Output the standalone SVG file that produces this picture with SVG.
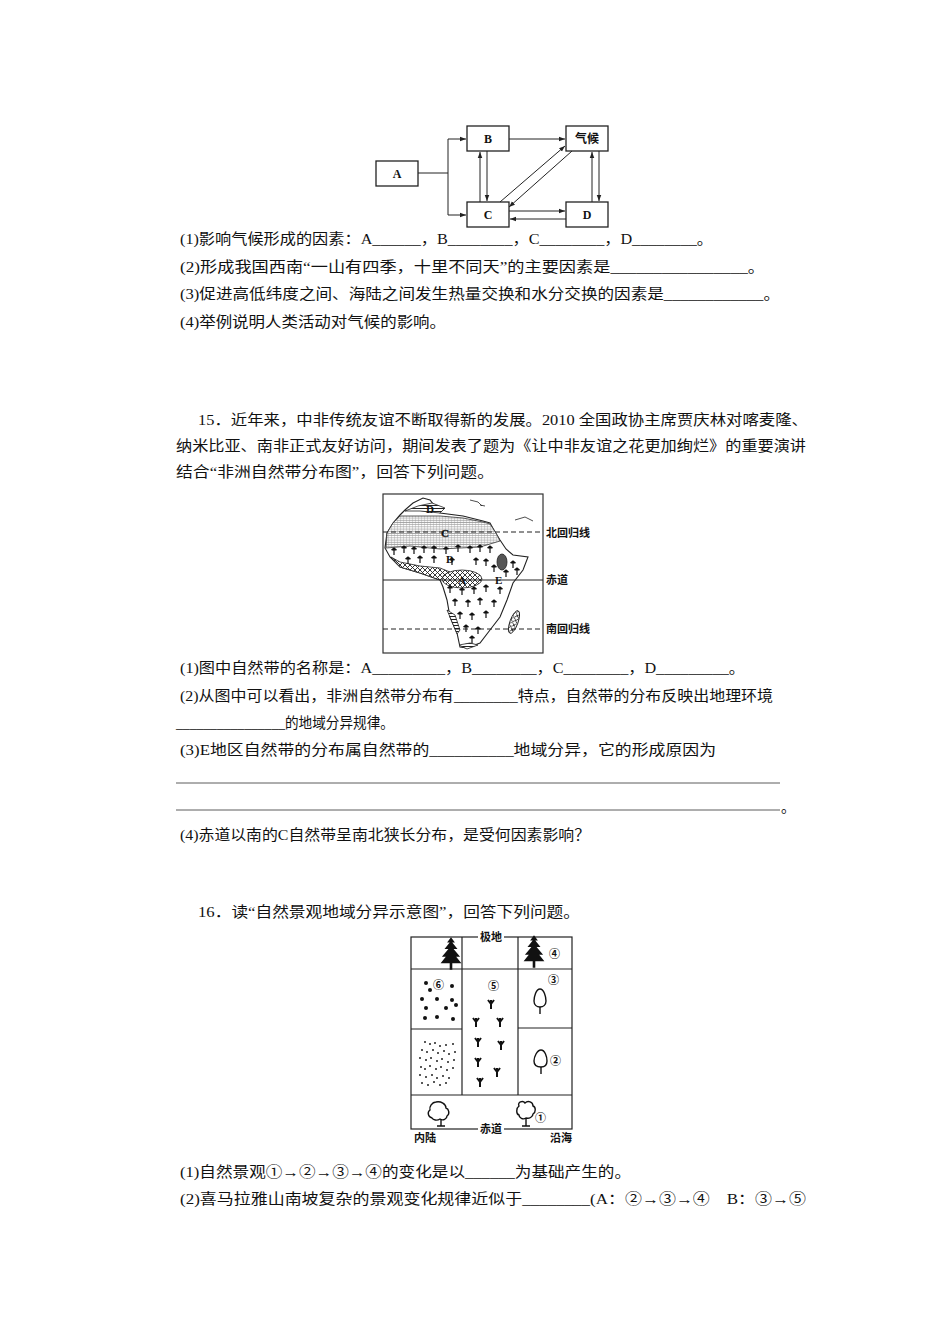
<svg xmlns="http://www.w3.org/2000/svg" width="950" height="1344" viewBox="0 0 950 1344">
<style>
.t{font-family:"Liberation Serif","Noto Sans CJK SC",serif;font-size:14.5px;fill:#111}
.b{fill:#fff;stroke:#222;stroke-width:1.3}
.bl{font-family:"Liberation Serif","Noto Sans CJK SC",serif;font-size:12px;font-weight:bold;fill:#111;text-anchor:middle}
.s{font-family:"Liberation Serif","Noto Sans CJK SC",serif;font-size:11px;font-weight:bold;fill:#111}
.c{fill:none;stroke:#222;stroke-width:1}
</style>
<defs>
<marker id="ar" viewBox="0 0 8 8" refX="8" refY="4" markerWidth="6" markerHeight="6" orient="auto"><path d="M0,1 L8,4 L0,7 z" fill="#222"/></marker>
<pattern id="hl" width="3" height="2.2" patternUnits="userSpaceOnUse"><rect width="3" height="2.2" fill="#fff"/><line x1="0" y1="1" x2="3" y2="1" stroke="#555" stroke-width="0.5"/><line x1="1.5" y1="0" x2="1.5" y2="2.2" stroke="#999" stroke-width="0.3"/></pattern>
<pattern id="hd" width="3" height="3" patternUnits="userSpaceOnUse"><rect width="3" height="3" fill="#fff"/><line x1="0" y1="1.5" x2="3" y2="1.5" stroke="#222" stroke-width="1"/></pattern>
<pattern id="cx" width="5" height="5" patternUnits="userSpaceOnUse"><rect width="5" height="5" fill="#fff"/><path d="M0,0 L5,5 M5,0 L0,5" stroke="#222" stroke-width="0.9"/></pattern>
<path id="tr" d="M0,0 v-5 M-2.5,-5 h5 M-2.5,-5 l2.5,-2 l2.5,2" stroke="#111" stroke-width="1.2" fill="#111"/>
<path id="gr" d="M0,5 v-9 M0,0 l-3,-4 M0,0 l3,-4" stroke="#111" stroke-width="2" fill="none"/>
<path id="pine" d="M0,-16 l-3,4 h2 l-4,5 h3 l-5,6 h3 l-4,5 h16 l-4,-5 h3 l-5,-6 h3 l-4,-5 h2 z M-1,4 h2 v5 h-2z" fill="#111"/>
</defs>

<g id="nodeA"><rect class="b" x="376" y="161" width="42" height="25"/><text class="bl" x="397" y="178">A</text></g>
<g id="nodeB"><rect class="b" x="467" y="126" width="42" height="25"/><text class="bl" x="488" y="143">B</text></g>
<g id="nodeQ"><rect class="b" x="566" y="126" width="42" height="25"/><text class="bl" x="587" y="143" font-weight="normal">气候</text></g>
<g id="nodeC"><rect class="b" x="467" y="202" width="42" height="25"/><text class="bl" x="488" y="219">C</text></g>
<g id="nodeD"><rect class="b" x="566" y="202" width="42" height="25"/><text class="bl" x="587" y="219">D</text></g>
<g id="connectors">
<path class="c" d="M418,173 H448 V139 H466" marker-end="url(#ar)"/>
<path class="c" d="M448,173 V215 H466" marker-end="url(#ar)"/>
<path class="c" d="M509,139 H565" marker-end="url(#ar)"/>
<path class="c" d="M480,202 V152" marker-end="url(#ar)"/>
<path class="c" d="M487,151 V201" marker-end="url(#ar)"/>
<path class="c" d="M500,202 L565,146" marker-end="url(#ar)"/>
<path class="c" d="M572,151 L509,207" marker-end="url(#ar)"/>
<path class="c" d="M509,211 H565" marker-end="url(#ar)"/>
<path class="c" d="M566,219 H510" marker-end="url(#ar)"/>
<path class="c" d="M592,202 V152" marker-end="url(#ar)"/>
<path class="c" d="M599,151 V201" marker-end="url(#ar)"/>
</g>

<g id="text1">
<text class="t" x="180" y="244" textLength="533" lengthAdjust="spacingAndGlyphs">(1)影响气候形成的因素：A______，B________，C________，D________。</text>
<text class="t" x="180" y="272" textLength="585" lengthAdjust="spacingAndGlyphs">(2)形成我国西南“一山有四季，十里不同天”的主要因素是________________。</text>
<text class="t" x="180" y="299" textLength="600" lengthAdjust="spacingAndGlyphs">(3)促进高低纬度之间、海陆之间发生热量交换和水分交换的因素是____________。</text>
<text class="t" x="180" y="327" textLength="266" lengthAdjust="spacingAndGlyphs">(4)举例说明人类活动对气候的影响。</text>
<text class="t" x="198" y="425" textLength="610" lengthAdjust="spacingAndGlyphs">15．近年来，中非传统友谊不断取得新的发展。2010 全国政协主席贾庆林对喀麦隆、</text>
<text class="t" x="176" y="451" textLength="630" lengthAdjust="spacingAndGlyphs">纳米比亚、南非正式友好访问，期间发表了题为《让中非友谊之花更加绚烂》的重要演讲</text>
<text class="t" x="176" y="477" textLength="318" lengthAdjust="spacingAndGlyphs">结合“非洲自然带分布图”，回答下列问题。</text>
</g>

<g id="map">
<rect x="383" y="494" width="160" height="159" fill="#fff" stroke="#333" stroke-width="1.2"/>
<path d="M387,533 L393,523 L400,515 L405,510 L413,503 L423,498 L430,500 L440,513 L463,516 L483,521 L490,523 L495,532 L500,540 L506,549 L513,555 L528,557 L523,570 L513,583 L507,600 L500,617 L490,630 L480,643 L467,648 L460,647 L457,633 L450,617 L447,600 L443,587 L440,580 L420,573 L400,567 L390,557 L385,548 Z" fill="#fff" stroke="#222" stroke-width="1.1"/>
<path d="M387,533 L393,523 L400,516 L440,516 L463,518 L483,522 L490,524 L496,533 L500,541 L480,547 L460,548 L440,549 L410,546 L386,548 Z" fill="url(#hl)" stroke="#333" stroke-width="0.8"/>
<path d="M405,511 L418,506 L432,503 L445,508 L440,513 L420,511 Z" fill="url(#hd)" stroke="#222" stroke-width="0.8"/>
<path d="M391,557 L400,562 L420,566 L440,568 L450,572 L444,576 L440,580 L420,573 L400,567 Z" fill="url(#cx)" stroke="#222" stroke-width="0.8"/>
<ellipse cx="462" cy="579" rx="20" ry="9" fill="url(#cx)" stroke="#222" stroke-width="0.8"/>
<ellipse cx="502" cy="562" rx="5" ry="8" fill="#555" stroke="#222" stroke-width="0.8"/>
<path d="M447,610 L455,615 L460,630 L457,634 L450,617 Z" fill="url(#hd)" stroke="#222" stroke-width="0.8"/>
<path d="M459,645 L470,643 L478,645 L467,649 Z" fill="url(#hd)" stroke="#222" stroke-width="0.8"/>
<ellipse cx="514" cy="622" rx="4" ry="12" transform="rotate(20 514 622)" fill="url(#cx)" stroke="#222" stroke-width="0.9"/>
<path d="M470,500 l8,2 l4,4 M480,505 l5,1 M515,520 l10,-3 l8,4" fill="none" stroke="#222" stroke-width="0.8"/>
<g>
<use href="#tr" x="394" y="555"/><use href="#tr" x="404" y="553"/><use href="#tr" x="414" y="554"/><use href="#tr" x="424" y="553"/><use href="#tr" x="434" y="553"/><use href="#tr" x="446" y="554"/><use href="#tr" x="458" y="552"/><use href="#tr" x="470" y="553"/><use href="#tr" x="480" y="552"/><use href="#tr" x="490" y="553"/>
<use href="#tr" x="408" y="564"/><use href="#tr" x="420" y="563"/><use href="#tr" x="434" y="563"/><use href="#tr" x="452" y="565"/><use href="#tr" x="476" y="565"/><use href="#tr" x="486" y="566"/><use href="#tr" x="494" y="572"/>
<use href="#tr" x="513" y="568"/><use href="#tr" x="506" y="577"/><use href="#tr" x="517" y="575"/>
<use href="#tr" x="450" y="593"/><use href="#tr" x="462" y="595"/><use href="#tr" x="474" y="594"/><use href="#tr" x="486" y="592"/><use href="#tr" x="500" y="594"/>
<use href="#tr" x="455" y="606"/><use href="#tr" x="468" y="607"/><use href="#tr" x="480" y="605"/><use href="#tr" x="494" y="607"/>
<use href="#tr" x="460" y="619"/><use href="#tr" x="472" y="620"/><use href="#tr" x="486" y="618"/>
<use href="#tr" x="466" y="632"/><use href="#tr" x="478" y="634"/><use href="#tr" x="472" y="643"/>
</g>
<line x1="383" y1="532" x2="543" y2="532" stroke="#222" stroke-dasharray="5,3"/>
<line x1="383" y1="580" x2="543" y2="580" stroke="#222"/>
<line x1="383" y1="629" x2="543" y2="629" stroke="#222" stroke-dasharray="5,3"/>
<text class="s" x="426" y="513" font-size="12">D</text>
<text class="s" x="441" y="537" font-size="12" fill="#fff" stroke="#222" stroke-width="0.3">C</text>
<text class="s" x="446" y="563" font-size="12">B</text>
<text class="s" x="458" y="584" font-size="12">A</text>
<text class="s" x="495" y="584" font-size="12">E</text>
<text class="s" x="546" y="537" font-weight="normal" font-size="12">北回归线</text>
<text class="s" x="546" y="584" font-weight="normal" font-size="12">赤道</text>
<text class="s" x="546" y="633" font-weight="normal" font-size="12">南回归线</text>
</g>

<g id="text2">
<text class="t" x="180" y="673" textLength="565" lengthAdjust="spacingAndGlyphs">(1)图中自然带的名称是：A_________，B________，C________，D_________。</text>
<text class="t" x="180" y="701" textLength="593" lengthAdjust="spacingAndGlyphs">(2)从图中可以看出，非洲自然带分布有________特点，自然带的分布反映出地理环境</text>
<text class="t" x="176" y="728" textLength="218" lengthAdjust="spacingAndGlyphs">________________的地域分异规律。</text>
<text class="t" x="180" y="755" textLength="536" lengthAdjust="spacingAndGlyphs">(3)E地区自然带的分布属自然带的__________地域分异，它的形成原因为</text>
<line x1="176" y1="783" x2="780" y2="783" stroke="#333" stroke-width="0.8"/>
<line x1="176" y1="810" x2="780" y2="810" stroke="#333" stroke-width="0.8"/>
<text class="t" x="781" y="812">。</text>
<text class="t" x="180" y="840" textLength="410" lengthAdjust="spacingAndGlyphs">(4)赤道以南的C自然带呈南北狭长分布，是受何因素影响？</text>
<text class="t" x="198" y="917" textLength="382" lengthAdjust="spacingAndGlyphs">16．读“自然景观地域分异示意图”，回答下列问题。</text>
</g>

<g id="landscape" fill="none" stroke="#222" stroke-width="1.2">
<rect x="411" y="937" width="161" height="192"/>
<line x1="411" y1="969" x2="572" y2="969"/>
<line x1="411" y1="1095" x2="572" y2="1095"/>
<line x1="462" y1="937" x2="462" y2="1095"/>
<line x1="518" y1="937" x2="518" y2="1095"/>
<line x1="411" y1="1029" x2="462" y2="1029"/>
<line x1="518" y1="1028" x2="572" y2="1028"/>
</g>
<g id="labels3">
<rect x="478" y="931" width="26" height="12" fill="#fff"/>
<text class="s" x="480" y="941" font-size="9.5">极地</text>
<rect x="478" y="1123" width="26" height="12" fill="#fff"/>
<text class="s" x="480" y="1133" font-size="9.5">赤道</text>
<text class="s" x="414" y="1142" font-size="9.5">内陆</text>
<text class="s" x="550" y="1142" font-size="9.5">沿海</text>
<text class="s" x="549" y="958" font-size="11" font-weight="normal">④</text>
<text class="s" x="548" y="984" font-size="11" font-weight="normal">③</text>
<text class="s" x="488" y="990" font-size="11" font-weight="normal">⑤</text>
<text class="s" x="433" y="989" font-size="11" font-weight="normal">⑥</text>
<text class="s" x="550" y="1065" font-size="11" font-weight="normal">②</text>
<text class="s" x="535" y="1122" font-size="11" font-weight="normal">①</text>
</g>
<g id="icons3">
<use href="#pine" transform="translate(451,958) scale(1.3)"/><use href="#pine" transform="translate(534,956) scale(1.3)"/>
<g fill="#111">
<circle cx="426" cy="983" r="2"/><circle cx="430" cy="990" r="2"/><circle cx="452" cy="986" r="2"/>
<circle cx="422" cy="999" r="2"/><circle cx="437" cy="999" r="2"/><circle cx="452" cy="1000" r="2"/>
<circle cx="426" cy="1008" r="2"/><circle cx="446" cy="1008" r="2"/><circle cx="456" cy="1005" r="2"/>
<circle cx="425" cy="1018" r="2"/><circle cx="437" cy="1017" r="2"/><circle cx="453" cy="1019" r="2"/>
</g>
<g fill="#222">
<circle cx="425" cy="1042" r="1"/><circle cx="430" cy="1044" r="1"/><circle cx="435" cy="1043" r="1"/><circle cx="440" cy="1046" r="1"/><circle cx="446" cy="1045" r="1"/><circle cx="453" cy="1044" r="1"/>
<circle cx="422" cy="1050" r="1"/><circle cx="427" cy="1052" r="1"/><circle cx="433" cy="1050" r="1"/><circle cx="438" cy="1053" r="1"/><circle cx="444" cy="1051" r="1"/><circle cx="449" cy="1054" r="1"/><circle cx="455" cy="1052" r="1"/>
<circle cx="420" cy="1058" r="1"/><circle cx="426" cy="1060" r="1"/><circle cx="431" cy="1058" r="1"/><circle cx="437" cy="1061" r="1"/><circle cx="442" cy="1059" r="1"/><circle cx="448" cy="1062" r="1"/><circle cx="454" cy="1060" r="1"/>
<circle cx="421" cy="1067" r="1"/><circle cx="425" cy="1069" r="1"/><circle cx="430" cy="1066" r="1"/><circle cx="436" cy="1069" r="1"/><circle cx="441" cy="1067" r="1"/><circle cx="447" cy="1070" r="1"/><circle cx="453" cy="1068" r="1"/>
<circle cx="420" cy="1075" r="1"/><circle cx="426" cy="1077" r="1"/><circle cx="432" cy="1075" r="1"/><circle cx="437" cy="1078" r="1"/><circle cx="443" cy="1076" r="1"/><circle cx="449" cy="1078" r="1"/>
<circle cx="422" cy="1083" r="1"/><circle cx="428" cy="1085" r="1"/><circle cx="434" cy="1082" r="1"/><circle cx="440" cy="1085" r="1"/><circle cx="446" cy="1083" r="1"/>
</g>
<use href="#gr" x="491" y="1004"/><use href="#gr" x="476" y="1022"/><use href="#gr" x="500" y="1022"/>
<use href="#gr" x="478" y="1042"/><use href="#gr" x="501" y="1045"/><use href="#gr" x="478" y="1062"/><use href="#gr" x="497" y="1072"/><use href="#gr" x="480" y="1082"/>
<g fill="#fff" stroke="#111" stroke-width="1.4">
<path d="M540,989 c-4,0 -6,8 -6,12 c0,4 3,6 6,6 c3,0 6,-2 6,-6 c0,-4 -2,-12 -6,-12z"/><path d="M540,1007 v7"/>
<path d="M541,1050 c-4,0 -7,7 -7,11 c0,4 3,6 7,6 c4,0 6,-2 6,-6 c0,-4 -2,-11 -6,-11z"/><path d="M541,1067 v7"/>
<path d="M436,1102 c-4,0 -7,5 -6,8 c-3,2 -2,7 2,8 c1,2 5,3 8,1 c3,2 7,0 7,-3 c3,-2 2,-7 -1,-8 c0,-4 -5,-7 -10,-6z"/><path d="M441,1119 v7 M437,1126 h8"/>
<path d="M519,1106 c-2,-4 4,-6 6,-3 c3,-3 8,-1 8,3 c3,1 3,6 0,8 c0,3 -4,5 -7,4 c-3,2 -7,0 -7,-3 c-3,-1 -3,-7 0,-9z"/><path d="M526,1118 v8 M522,1126 h8"/>
</g>
</g>

<g id="text3">
<text class="t" x="180" y="1177" textLength="451" lengthAdjust="spacingAndGlyphs">(1)自然景观①→②→③→④的变化是以______为基础产生的。</text>
<text class="t" x="180" y="1204" textLength="626" lengthAdjust="spacingAndGlyphs">(2)喜马拉雅山南坡复杂的景观变化规律近似于________(A：②→③→④　B：③→⑤</text>
</g>
</svg>
